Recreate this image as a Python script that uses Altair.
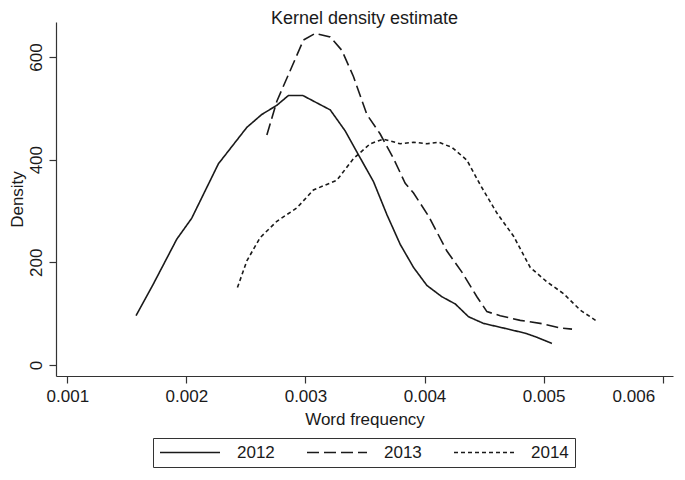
import altair as alt
import pandas as pd

# ---- data ----
x2012 = [0.001577, 0.001723, 0.001919, 0.002045, 0.002269, 0.002508, 0.002633, 0.002760,
         0.002857, 0.002978, 0.003208, 0.003334, 0.003432, 0.003572, 0.003684, 0.003796,
         0.003908, 0.004020, 0.004146, 0.004258, 0.004370, 0.004496, 0.004664, 0.004846,
         0.004944, 0.005070]
d2012 = [96, 158, 245, 286, 392, 463, 488, 506,
         525, 525, 497, 456, 415, 357, 293, 235,
         190, 155, 133, 119, 94, 81, 72, 62,
         54, 42]

x2013 = [0.002676, 0.002760, 0.002886, 0.002983, 0.003082, 0.003208, 0.003306, 0.003403,
         0.003516, 0.003628, 0.003740, 0.003838, 0.003908, 0.004034, 0.004188, 0.004314,
         0.004440, 0.004524, 0.004636, 0.004804, 0.005000, 0.005140, 0.005239]
d2013 = [448, 514, 581, 633, 646, 639, 613, 562,
         488, 450, 402, 354, 335, 290, 222, 181,
         133, 104, 96, 87, 80, 72, 70]

x2014 = [0.002429, 0.002508, 0.002619, 0.002760, 0.002928, 0.003067, 0.003264, 0.003403,
         0.003544, 0.003656, 0.003796, 0.003908, 0.004020, 0.004118, 0.004230, 0.004356,
         0.004468, 0.004608, 0.004748, 0.004888, 0.005028, 0.005168, 0.005308, 0.005443]
d2014 = [151, 203, 248, 280, 306, 341, 360, 402,
         431, 440, 431, 434, 431, 434, 424, 399,
         351, 296, 251, 190, 162, 139, 107, 86]

years = ["2012", "2013", "2014"]
x_ticks = [0.001, 0.002, 0.003, 0.004, 0.005, 0.006]
y_ticks = [0, 200, 400, 600]

rows = []
for yr, xs, ds in zip(years, [x2012, x2013, x2014], [d2012, d2013, d2014]):
    for i, (xv, dv) in enumerate(zip(xs, ds)):
        rows.append({"year": yr, "freq": xv, "density": dv, "order": i})
df = pd.DataFrame(rows)

FONT = "Liberation Sans"
INK = "#1a1a1a"

chart = (
    alt.Chart(df)
    .mark_line(strokeWidth=1.6, color=INK)
    .encode(
        x=alt.X("freq:Q",
                scale=alt.Scale(domain=[0.000905, 0.006087], nice=False, zero=False),
                axis=alt.Axis(values=x_ticks, format=".3f", title="Word frequency",
                              grid=False, tickSize=7, labelPadding=5, titlePadding=7,
                              labelFlush=10.8, labelFlushOffset=-8,
                              labelOverlap=False)),
        y=alt.Y("density:Q",
                scale=alt.Scale(domain=[-21.4, 668.2], nice=False, zero=False),
                axis=alt.Axis(values=y_ticks, title="Density", grid=False, tickSize=7,
                              labelAngle=270, labelAlign="center", labelBaseline="bottom",
                              labelPadding=4, titlePadding=1)),
        strokeDash=alt.StrokeDash("year:N",
                                  scale=alt.Scale(domain=years,
                                                  range=[[1, 0], [12, 5], [4, 3]]),
                                  legend=alt.Legend(title=None, orient="none",
                                                    legendX=97, legendY=416,
                                                    direction="horizontal", columns=3,
                                                    symbolType="stroke", symbolSize=3600,
                                                    clipHeight=17,
                                                    symbolStrokeWidth=1.6,
                                                    symbolStrokeColor=INK,
                                                    labelFontSize=17, labelFont=FONT,
                                                    labelColor=INK, labelOffset=16,
                                                    columnPadding=31, padding=6,
                                                    strokeColor="#333333")),
        order="order:Q",
    )
    .properties(
        width=617, height=354,
        title=alt.TitleParams("Kernel density estimate", fontSize=18, font=FONT,
                              fontWeight="normal", color=INK, offset=0, dy=6,
                              anchor="middle"),
        autosize=alt.AutoSizeParams(type="none"),
        padding={"left": 48, "top": 14, "right": 4, "bottom": 92},
        background="white",
    )
    .configure_view(stroke=None)
    .configure_axis(labelFont=FONT, titleFont=FONT, labelFontSize=17, titleFontSize=17,
                    titleFontWeight="normal", labelColor=INK, titleColor=INK,
                    domainColor="#333333", tickColor="#333333", domainWidth=1.2,
                    tickWidth=1.2)
)

chart.save("out.html", embed_options={"renderer": "svg", "actions": False})
